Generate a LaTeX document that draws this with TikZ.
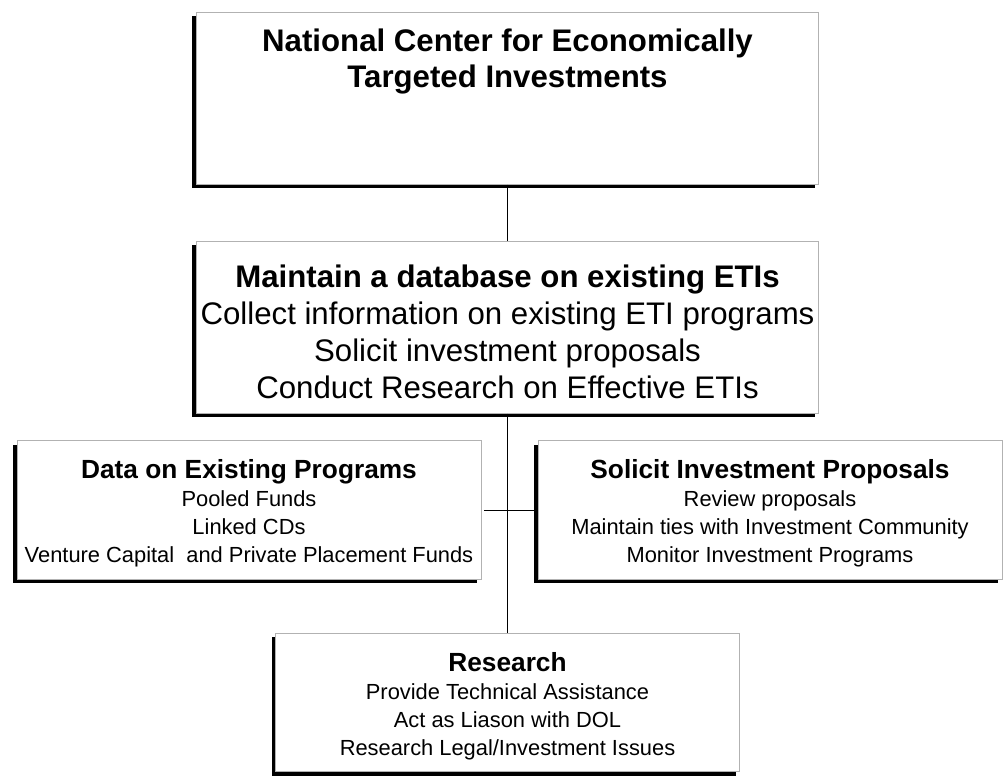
\documentclass[tikz,border=0pt]{standalone}
\usepackage{fontspec}
\setmainfont{Liberation Sans}
\usetikzlibrary{positioning,shadows}

\begin{document}
\begin{tikzpicture}[x=0.75pt,y=-0.75pt,
		boite/.style={rectangle, draw=gray!60, line width=0.75pt, fill=white,
			drop shadow={shadow xshift=-3pt, shadow yshift=-3pt, fill=black, opacity=1}},
		grande/.style={boite, minimum width=467pt, minimum height=129pt},
		petite/.style={boite, minimum width=348pt, minimum height=104pt},
		texte/.style={align=center, inner sep=0pt},
		trait/.style={line width=0.75pt}]
	
	% Cadre de la page
	\useasboundingbox (0,0) rectangle (1005,776);
	
	% Boîtes (vides), les textes sont posés dedans plus bas
	\node[grande] (center) at (507.5,98) {};
	\node[grande] (database) at (507.5,327) {};
	\node[petite] (data) at (249,510) {};
	\node[petite] (solicit) at (770,510) {};
	\node[petite] (research) at (507.5,702.5) {};
	
	% Traits entre les boîtes
	\draw[trait] (center) -- (database);
	\draw[trait] (database) -- (research);
	\draw[trait, shorten <=2pt, shorten >=3pt] (data.east) -- (solicit.west);
	
	% Texte de la boîte du haut
	\node[texte, below=13pt of center.north, font=\fontsize{23.4}{26.6}\selectfont\bfseries] (centertxt)
		{National Center for Economically\\Targeted Investments};
	
	% Texte de la deuxième boîte
	\node[texte, below=18pt of database.north, font=\fontsize{23.4}{27.75}\selectfont] (databasetxt)
		{\textbf{Maintain a database on existing ETIs}\\
		 Collect information on existing ETI programs\\
		 Solicit investment proposals\\
		 Conduct Research on Effective ETIs};
	
	% Textes des trois petites boîtes
	\node[texte, below=14.5pt of data.north, font=\fontsize{16.4}{21}\selectfont] (datatxt)
		{{\fontsize{19.7}{21}\selectfont\bfseries Data on Existing Programs}\\
		 Pooled Funds\\
		 Linked CDs\\
		 Venture Capital~ and Private Placement Funds};
	\node[texte, below=14.5pt of solicit.north, font=\fontsize{16.4}{21}\selectfont] (solicittxt)
		{{\fontsize{19.7}{21}\selectfont\bfseries Solicit Investment Proposals}\\
		 Review proposals\\
		 Maintain ties with Investment Community\\
		 Monitor Investment Programs};
	\node[texte, below=14.5pt of research.north, font=\fontsize{16.4}{21}\selectfont] (researchtxt)
		{{\fontsize{19.7}{21}\selectfont\bfseries Research}\\
		 Provide Technical Assistance\\
		 Act as Liason with DOL\\
		 Research Legal/Investment Issues};
	
\end{tikzpicture}
\end{document}
